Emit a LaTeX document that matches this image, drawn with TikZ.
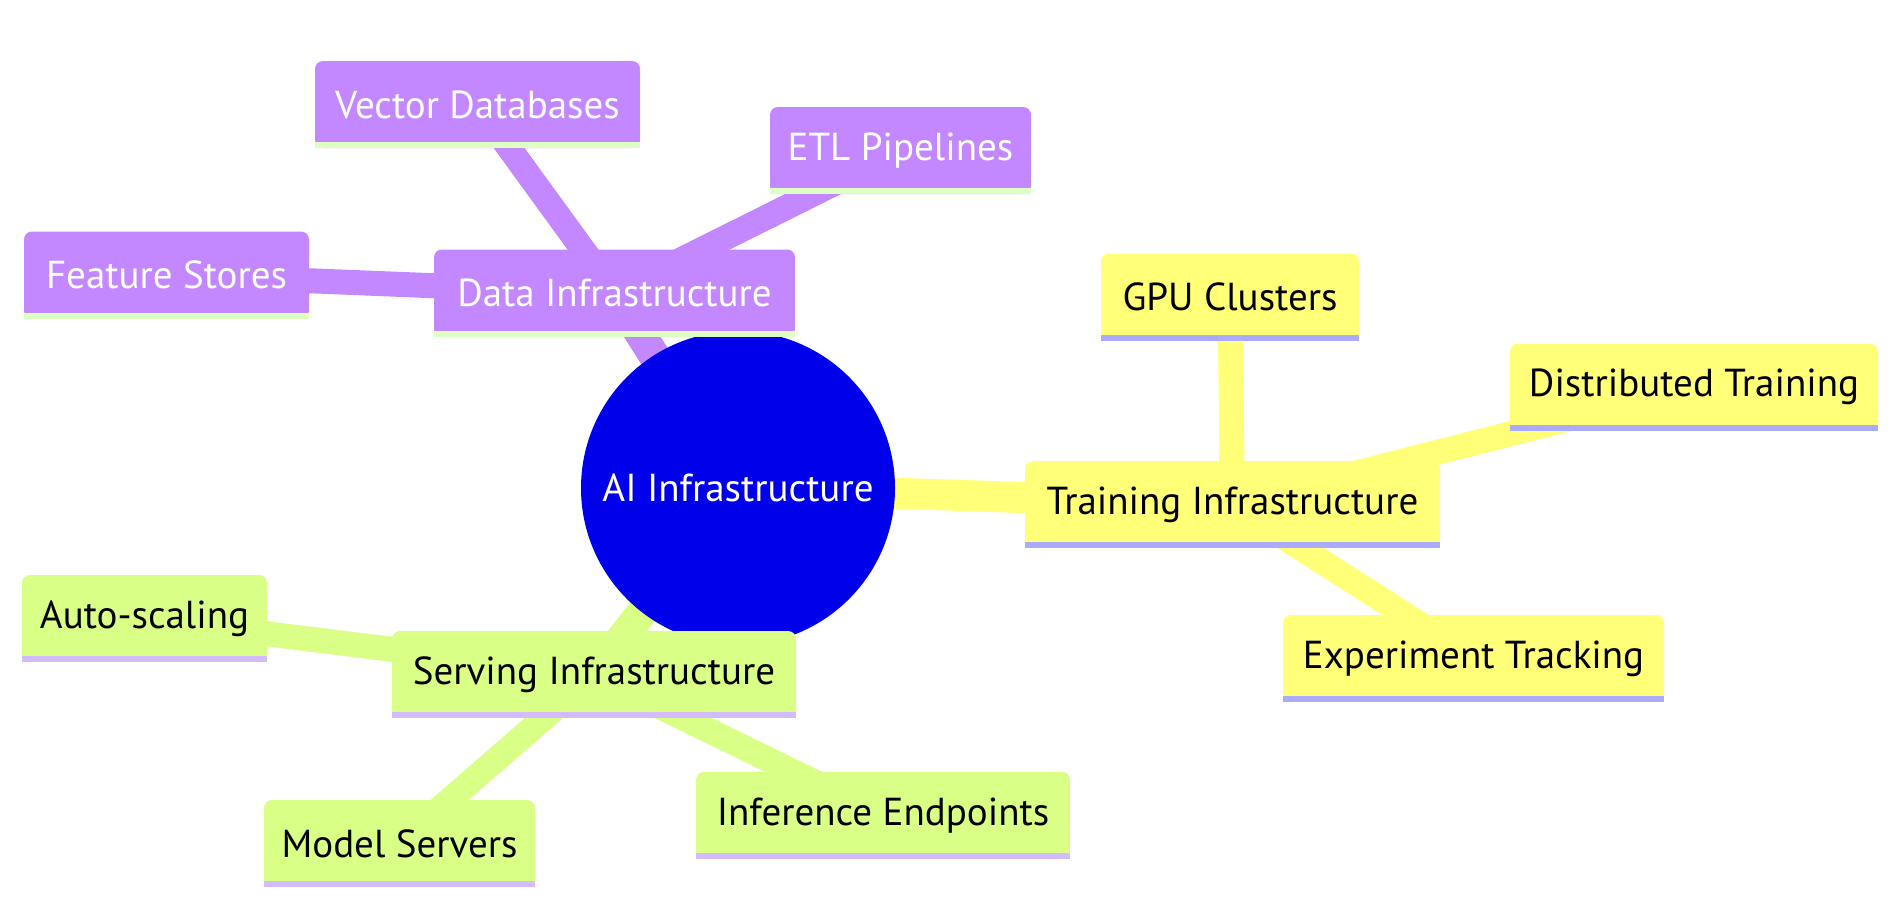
\documentclass[tikz,border=0pt]{standalone}
\usepackage{fontspec}
\setmainfont{PT Sans}
\usetikzlibrary{backgrounds}
\definecolor{cpurple}{HTML}{C387FF}
\definecolor{cyellow}{HTML}{FFFF78}
\definecolor{cgreen}{HTML}{DAFF87}
\definecolor{spurple}{HTML}{DDFFC2}
\definecolor{syellow}{HTML}{AAAAFF}
\definecolor{sgreen}{HTML}{D2BBFF}
\definecolor{rootblue}{HTML}{0000EA}
\tikzset{
  box/.style={rectangle, rounded corners=8pt, minimum height=87pt, inner sep=0pt,
    font=\fontsize{39}{44}\selectfont},
  databox/.style={box, fill=cpurple, text=white},
  trainbox/.style={box, fill=cyellow, text=black},
  servbox/.style={box, fill=cgreen, text=black},
  rootnode/.style={circle, fill=rootblue, text=white, minimum size=314pt, inner sep=0pt,
    font=\fontsize{39}{44}\selectfont},
  rootedge/.style={line width=31pt},
  childedge/.style={line width=25pt},
}
\begin{document}
\begin{tikzpicture}[x=1pt,y=-1pt]
\useasboundingbox (0,0) rectangle (1902,921);
\node[rootnode] (root) at (738,488) {AI Infrastructure};
% data branch
\node[databox, minimum width=361pt] (data) at (614.5,293) {Data Infrastructure};
\node[databox, minimum width=325pt] (vec) at (477.5,104.5) {Vector Databases};
\node[databox, minimum width=261pt] (etl) at (900.5,150.5) {ETL Pipelines};
\node[databox, minimum width=285pt] (feat) at (166.5,275) {Feature Stores};
% training branch
\node[trainbox, minimum width=415pt] (train) at (1232.5,504.5) {Training Infrastructure};
\node[trainbox, minimum width=258pt] (gpu) at (1230,297) {GPU Clusters};
\node[trainbox, minimum width=368pt] (dist) at (1694,387) {Distributed Training};
\node[trainbox, minimum width=381pt] (exp) at (1473.5,658.5) {Experiment Tracking};
% serving branch
\node[servbox, minimum width=404pt] (serv) at (594,674.5) {Serving Infrastructure};
\node[servbox, minimum width=245pt] (auto) at (144.5,618.5) {Auto-scaling};
\node[servbox, minimum width=271pt] (model) at (399.5,843.5) {Model Servers};
\node[servbox, minimum width=374pt] (inf) at (883,815.5) {Inference Endpoints};
% bottom stripes
\foreach \n/\c in {data/spurple, vec/spurple, etl/spurple, feat/spurple,
                   train/syellow, gpu/syellow, dist/syellow, exp/syellow,
                   serv/sgreen, auto/sgreen, model/sgreen, inf/sgreen}
  \fill[\c] (\n.south west) rectangle ([yshift=6pt]\n.south east);
\begin{scope}[on background layer]
\draw[rootedge, cpurple] (root.center) -- (data.center);
\draw[rootedge, cyellow] (root.center) -- (train.center);
\draw[rootedge, cgreen] (root.center) -- (serv.center);
\draw[childedge, cpurple] (data.center) -- (vec.center);
\draw[childedge, cpurple] (data.center) -- (etl.center);
\draw[childedge, cpurple] (data.center) -- (feat.center);
\draw[childedge, cyellow] (train.center) -- (gpu.center);
\draw[childedge, cyellow] (train.center) -- (dist.center);
\draw[childedge, cyellow] (train.center) -- (exp.center);
\draw[childedge, cgreen] (serv.center) -- (auto.center);
\draw[childedge, cgreen] (serv.center) -- (model.center);
\draw[childedge, cgreen] (serv.center) -- (inf.center);
\end{scope}
\end{tikzpicture}
\end{document}
